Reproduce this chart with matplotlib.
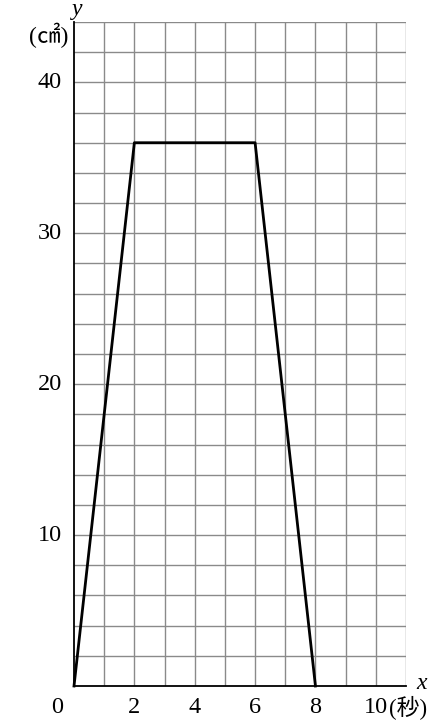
import matplotlib.pyplot as plt
import numpy as np

# data
x_vals = [0, 2, 6, 8]
y_vals = [0, 36, 36, 0]
x_ticks = [2, 4, 6, 8, 10]
y_ticks = [10, 20, 30, 40]

serif = ['Liberation Serif', 'Noto Sans CJK JP', 'DejaVu Sans']

fig = plt.figure(figsize=(4.34, 7.2), dpi=100)
ax = fig.add_axes([74 / 434, 34 / 720, 332 / 434, 664 / 720])
ax.set_xlim(0, 11)
ax.set_ylim(0, 44)

# grid
for gx in np.arange(1, 12):
    ax.axvline(gx, color='#8a8a8a', lw=1.0, zorder=1)
for gy in np.arange(2, 46, 2):
    ax.axhline(gy, color='#8a8a8a', lw=1.0, zorder=1)

ax.plot(x_vals, y_vals, color='black', lw=2.0, zorder=3, clip_on=False)

for s in ['top', 'right']:
    ax.spines[s].set_visible(False)
for s in ['left', 'bottom']:
    ax.spines[s].set_color('black')
    ax.spines[s].set_linewidth(1.3)
    ax.spines[s].set_zorder(4)

ax.set_xticks([])
ax.set_yticks([])

# tick labels
for t in x_ticks:
    ax.text(t, -1.45, str(t), ha='center', va='center', fontsize=17.5, family=serif)
ax.text(10.45, -1.45, '(秒)', ha='left', va='center', fontsize=16.5, family=serif)
ax.text(-0.55, -1.45, '0', ha='center', va='center', fontsize=17.5, family=serif)
for t in y_ticks:
    ax.text(-0.4, t, str(t), ha='right', va='center', fontsize=17.5, family=serif)

ax.text(11.5, 0.15, 'x', ha='center', va='center', fontsize=17, style='italic', family=serif)
ax.text(0.1, 44.85, 'y', ha='center', va='center', fontsize=17, style='italic', family=serif)
ax.text(-0.2, 43.1, '(㎠)', ha='right', va='center', fontsize=17, family=serif)

fig.savefig('out.png', dpi=100)
